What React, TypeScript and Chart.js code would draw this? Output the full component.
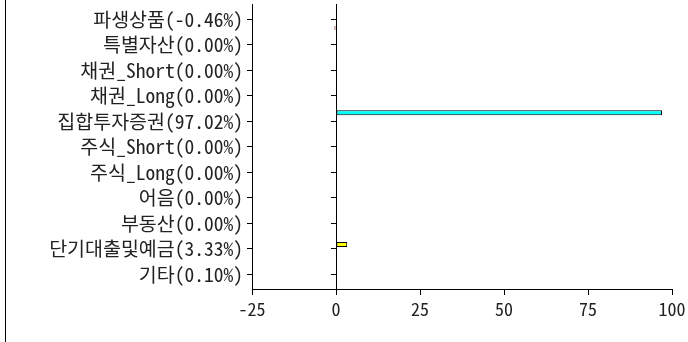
import React, { useEffect, useRef } from 'react';
import { Chart, registerables } from 'chart.js';

Chart.register(...registerables);

// ---- data ----
const categories = [
  '파생상품(-0.46%)',
  '특별자산(0.00%)',
  '채권_Short(0.00%)',
  '채권_Long(0.00%)',
  '집합투자증권(97.02%)',
  '주식_Short(0.00%)',
  '주식_Long(0.00%)',
  '어음(0.00%)',
  '부동산(0.00%)',
  '단기대출및예금(3.33%)',
  '기타(0.10%)',
];
const values = [-0.46, 0, 0, 0, 97.02, 0, 0, 0, 0, 3.33, 0.1];
const seriesNames = ['집합투자증권', '단기대출및예금', '기타', '기타자산', '파생상품'];
const seriesOfCategory = [4, 3, 3, 3, 0, 3, 3, 3, 3, 1, 2];
const seriesColors = ['#00ffff', '#ffff00', '#808080', '#c0c0c0', '#990000'];
const seriesBorders = ['#000000', '#000000', '#000000', '#000000', '#5a0000'];
const xTickValues = [-25, 0, 25, 50, 75, 100];

const FONT = "'Noto Sans Mono CJK KR', 'Noto Sans CJK KR', sans-serif";
const TEXT = '#222';

export default function App() {
  const ref = useRef<HTMLCanvasElement | null>(null);

  useEffect(() => {
    document.body.style.margin = '0';
    const canvas = ref.current;
    if (!canvas) return;

    const datasets = seriesNames.map((name, d) => ({
      label: name,
      data: categories
        .map((_, i) => (seriesOfCategory[i] === d ? { x: values[i], y: i } : null))
        .filter((p) => p !== null),
      backgroundColor: seriesColors[d],
      borderColor: seriesBorders[d],
      borderWidth: 1,
      borderSkipped: false,
      categoryPercentage: 0.84,
      barPercentage: 1.15,
    }));

    const yTicks = (scale: any) => {
      scale.ticks = categories.map((_, i) => ({ value: i }));
    };

    const chart = new Chart(canvas, {
      type: 'bar',
      data: { datasets: datasets as any },
      options: {
        indexAxis: 'y',
        animation: false,
        responsive: false,
        maintainAspectRatio: false,
        layout: { padding: { top: 4, right: 16, bottom: 0, left: 0 } },
        plugins: { legend: { display: false }, tooltip: { enabled: false } },
        scales: {
          x: {
            type: 'linear',
            position: 'bottom',
            min: -25,
            max: 100,
            afterBuildTicks: (scale: any) => {
              scale.ticks = xTickValues.map((v) => ({ value: v }));
            },
            afterFit: (scale: any) => {
              scale.height = 53;
              scale.paddingLeft = 0;
              scale.paddingRight = 0;
            },
            grid: {
              drawOnChartArea: false,
              drawTicks: true,
              tickLength: 6,
              tickColor: '#000',
            },
            border: { display: true, color: '#000', width: 1 },
            ticks: {
              color: TEXT,
              font: { family: FONT, size: 18 },
              padding: 3,
              maxRotation: 0,
              autoSkip: false,
            },
          },
          y: {
            type: 'linear',
            position: 'left',
            reverse: true,
            offset: false,
            min: -0.6,
            max: 10.58,
            afterBuildTicks: yTicks,
            afterFit: (scale: any) => {
              scale.width = 252;
              scale.paddingTop = 0;
              scale.paddingBottom = 0;
            },
            grid: {
              offset: false,
              drawOnChartArea: false,
              drawTicks: true,
              tickLength: 5,
              tickColor: '#000',
            },
            border: { display: true, color: '#000', width: 1 },
            ticks: {
              color: TEXT,
              font: { family: FONT, size: 19.5 },
              padding: 4,
              autoSkip: false,
              callback: (v: any) => categories[v as number] ?? '',
            },
          },
          y2: {
            type: 'linear',
            axis: 'y',
            position: { x: 0 } as any,
            reverse: true,
            offset: false,
            min: -0.6,
            max: 10.58,
            afterBuildTicks: yTicks,
            afterFit: (scale: any) => {
              scale.width = 0;
              scale.paddingTop = 0;
              scale.paddingBottom = 0;
            },
            grid: {
              offset: false,
              drawOnChartArea: false,
              drawTicks: true,
              tickLength: 5,
              tickColor: '#000',
            },
            border: { display: true, color: '#000', width: 1 },
            ticks: { display: false },
          },
        },
      } as any,
    });

    return () => chart.destroy();
  }, []);

  return (
    <div style={{ position: 'fixed', left: 0, top: 0, width: 688, height: 342, background: '#fff' }}>
      <div style={{ position: 'absolute', left: 5, top: 0, width: 1, height: 342, background: '#000' }} />
      <canvas ref={ref} width={688} height={342} style={{ position: 'absolute', left: 0, top: 0, width: 688, height: 342 }} />
    </div>
  );
}
